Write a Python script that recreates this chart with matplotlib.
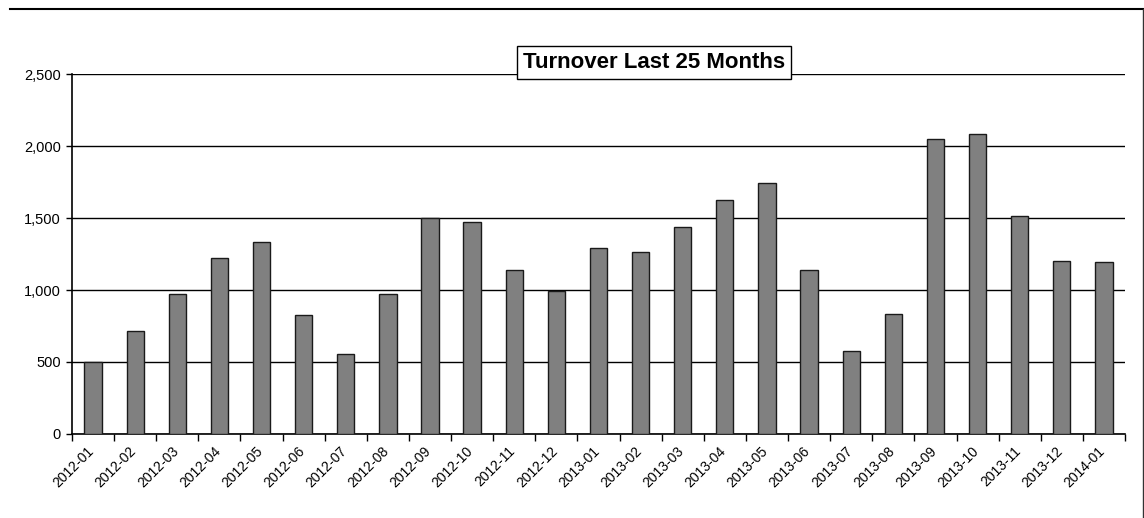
import numpy as np
import matplotlib
matplotlib.use("Agg")
import matplotlib.pyplot as plt
import matplotlib.transforms as mtransforms
from matplotlib.lines import Line2D
from matplotlib.ticker import FuncFormatter, FixedLocator

plt.rcParams['font.family'] = ['Liberation Sans', 'DejaVu Sans']

months = ["2012-01", "2012-02", "2012-03", "2012-04", "2012-05", "2012-06",
          "2012-07", "2012-08", "2012-09", "2012-10", "2012-11", "2012-12",
          "2013-01", "2013-02", "2013-03", "2013-04", "2013-05", "2013-06",
          "2013-07", "2013-08", "2013-09", "2013-10", "2013-11", "2013-12",
          "2014-01"]
turnover = [497, 713, 970, 1224, 1333, 824, 558, 970, 1500, 1472, 1139, 991,
            1292, 1264, 1438, 1625, 1743, 1137, 579, 833, 2046, 2085, 1516,
            1204, 1194]
y_ticks = [0, 500, 1000, 1500, 2000, 2500]

fig = plt.figure(figsize=(11.44, 5.18), dpi=100)
ax = fig.add_axes([0.0629, 0.1622, 0.9205, 0.6948])

x = np.arange(len(months))
ax.bar(x, turnover, width=0.41, color="#808080", edgecolor="#1a1a1a",
       linewidth=1.0, zorder=3)

ax.set_xlim(-0.5, len(months) - 0.5)
ax.set_ylim(0, 2500)
ax.set_yticks(y_ticks)
ax.yaxis.set_major_formatter(FuncFormatter(lambda v, p: f"{int(v):,}"))
ax.grid(axis='y', color="black", linewidth=1.0, zorder=1)

# ticks at category boundaries, labels at centres
ax.xaxis.set_major_locator(FixedLocator(np.arange(len(months) + 1) - 0.5))
ax.xaxis.set_major_formatter(FuncFormatter(lambda v, p: ""))
ax.set_xticks(x, minor=True)
ax.set_xticklabels(months, minor=True, rotation=45, ha='right',
                   rotation_mode='anchor', fontsize=10)
ax.tick_params(axis='x', which='minor', length=0, pad=7)
ax.tick_params(axis='x', which='major', length=5, width=1, direction='out')
ax.tick_params(axis='y', length=4, width=1, direction='out', labelsize=10.5, pad=4)

shift = mtransforms.ScaledTranslation(-6 / 100, 0, fig.dpi_scale_trans)
for lbl in ax.get_xticklabels(minor=True):
    lbl.set_transform(lbl.get_transform() + shift)

for side in ("top", "right"):
    ax.spines[side].set_visible(False)
for side in ("left", "bottom"):
    ax.spines[side].set_color("black")
    ax.spines[side].set_linewidth(1.2)

fig.text(654 / 1144, 1 - 62.5 / 518, "Turnover Last 25 Months", ha='center',
         va='center', fontsize=16, fontweight='bold',
         bbox=dict(boxstyle='square,pad=0.25', facecolor='white',
                   edgecolor='black', linewidth=1.0), zorder=5)

# outer frame lines (top and right)
fig.add_artist(Line2D([10 / 1144, 1143 / 1144], [1 - 9 / 518, 1 - 9 / 518],
                      color="black", linewidth=1.5, transform=fig.transFigure))
fig.add_artist(Line2D([1143 / 1144, 1143 / 1144], [1 - 9 / 518, 0],
                      color="#333333", linewidth=1.0, transform=fig.transFigure))

fig.savefig("out.png", dpi=100)
